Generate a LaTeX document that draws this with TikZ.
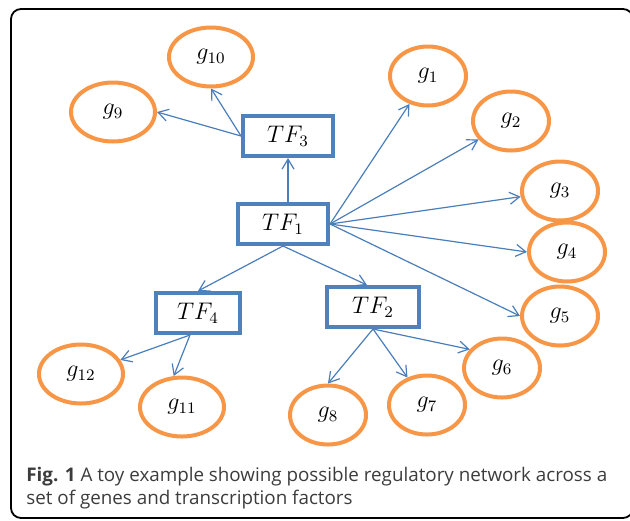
\documentclass[tikz,border=0pt]{standalone}
\usepackage{fontspec}
\setsansfont{Open Sans}
\usetikzlibrary{arrows.meta, positioning, shapes.geometric}
\definecolor{tfblue}{RGB}{79,129,189}
\definecolor{arrowblue}{RGB}{74,126,187}
\definecolor{geneorange}{RGB}{247,150,70}
\definecolor{captiongray}{RGB}{60,60,60}

\begin{document}
\begin{tikzpicture}[
		x=0.5pt, y=-0.5pt,
		every node/.style={font=\fontsize{12}{14}\selectfont},
		factor/.style={rectangle, draw=tfblue, line width=2pt, minimum width=45pt, minimum height=20pt, inner sep=0pt},
		gene/.style={ellipse, draw=geneorange, line width=2pt, minimum width=38pt, minimum height=29.5pt, inner sep=0pt},
		widegene/.style={gene, minimum width=42pt},
		arrow/.style={-{Straight Barb[length=5pt,width=6pt]}, draw=arrowblue, line width=0.6pt},
		caption/.style={font=\sffamily\fontsize{9.4}{11}\selectfont, text=captiongray, anchor=base west, inner sep=0pt}
		]
		\useasboundingbox (0,0) rectangle (630,520);
		\clip (0,0) rectangle (630,520);
		
		% Frame
		\draw[line width=0.9pt, rounded corners=5pt] (11,9) rectangle (633,518);
		
		% Transcription factors
		\node[factor] (tf1) at (283,224) {$TF_1$};
		\node[factor] (tf3) at (288,136) {$TF_3$};
		\node[factor, minimum width=46pt] (tf2) at (373,307) {$TF_2$};
		\node[factor, minimum width=42pt] (tf4) at (198,313) {$TF_4$};
		
		% Genes
		\node[gene] (g1) at (428,76) {$g_1$};
		\node[gene] (g2) at (511,121) {$g_2$};
		\node[gene] (g3) at (560,191) {$g_3$};
		\node[gene] (g4) at (567,252) {$g_4$};
		\node[gene] (g5) at (560,316) {$g_5$};
		\node[gene] (g6) at (502,368) {$g_6$};
		\node[gene] (g7) at (427,405) {$g_7$};
		\node[gene] (g8) at (328,415) {$g_8$};
		\node[widegene] (g9) at (113,112) {$g_9$};
		\node[widegene] (g10) at (211,57) {$g_{10}$};
		\node[widegene] (g11) at (182,407) {$g_{11}$};
		\node[widegene] (g12) at (81,374) {$g_{12}$};
		
		% Regulation arrows
		\draw[arrow] (tf3.south |- tf1.north) -- (tf3.south);
		\draw[arrow] (tf1.south) -- (tf4.north);
		\draw[arrow] (tf1.south) -- ([xshift=-3pt]tf2.north);
		\draw[arrow] (tf1.east) -- (g1);
		\draw[arrow] (tf1.east) -- (g2);
		\draw[arrow] (tf1.east) -- (g3);
		\draw[arrow] (tf1.east) -- (g4.west);
		\draw[arrow] (tf1.east) -- (g5.west);
		\draw[arrow] (tf3.west) -- (g9.east);
		\draw[arrow] (tf3.west) -- (g10.south);
		\draw[arrow] (tf2.south) -- (g6.150);
		\draw[arrow] (tf2.south) -- (g7);
		\draw[arrow] (tf2.south) -- (g8.north);
		\draw[arrow] ([xshift=-4pt]tf4.south) -- (g12);
		\draw[arrow] ([xshift=-4pt]tf4.south) -- (g11.105);
		
		% Caption
		\node[caption] (cap1) at (26,481) {\textbf{Fig. 1} A toy example showing possible regulatory network across a};
		\node[caption] (cap2) at (26,504) {set of genes and transcription factors};
		
	\end{tikzpicture}
\end{document}
